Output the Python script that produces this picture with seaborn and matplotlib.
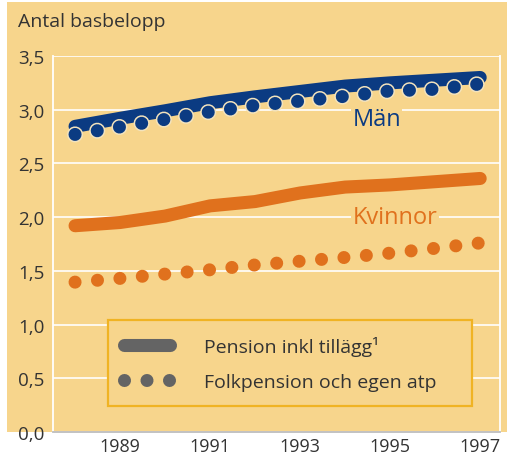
import pandas as pd
import matplotlib.pyplot as plt
import seaborn as sns
from matplotlib.lines import Line2D
from matplotlib.patches import Rectangle

# --- DATA ---
YEARS = list(range(1988, 1998))
MAN_TOTAL = [2.845, 2.92, 2.99, 3.065, 3.12, 3.17, 3.22, 3.25, 3.275, 3.30]
MAN_BASIC = [2.77, 2.84, 2.91, 2.98, 3.04, 3.08, 3.125, 3.175, 3.19, 3.24]
KVINNA_TOTAL = [1.92, 1.95, 2.01, 2.105, 2.145, 2.225, 2.28, 2.30, 2.33, 2.36]
KVINNA_BASIC = [1.395, 1.43, 1.47, 1.51, 1.555, 1.59, 1.625, 1.665, 1.71, 1.76]
Y_TICKS = [0.0, 0.5, 1.0, 1.5, 2.0, 2.5, 3.0, 3.5]
Y_LABELS = ['0,0', '0,5', '1,0', '1,5', '2,0', '2,5', '3,0', '3,5']
X_LABEL_YEARS = [1989, 1991, 1993, 1995, 1997]
LEGEND_LABELS = ['Pension inkl tillägg\u00b9', 'Folkpension och egen atp']

# --- STYLE ---
BG = '#f7d58c'
NAVY = '#0b3b82'
ORANGE = '#e0711d'
GREY = '#646464'
GOLD = '#f0b323'
TEXT = '#333333'
LW = 9.4                      # ~13 px thick strokes
DOTS = (0, (0.001, 16.2))     # round dots every ~22.5 px

sns.set_theme(style='white')
plt.rcParams['font.family'] = ['Open Sans', 'DejaVu Sans']
plt.rcParams['lines.scale_dashes'] = False


def main():
    fig = plt.figure(figsize=(5.07, 4.60), dpi=100, facecolor='white')
    fig.patches.append(Rectangle((7 / 507, 27 / 460), 1, 430 / 460,
                                 transform=fig.transFigure, facecolor=BG,
                                 edgecolor='none', zorder=-10))
    ax = fig.add_axes([53 / 507, 27 / 460, 447 / 507, 376 / 460])
    ax.set_facecolor(BG)

    df = pd.DataFrame({'year': YEARS, 'man_total': MAN_TOTAL, 'man_basic': MAN_BASIC,
                       'kvinna_total': KVINNA_TOTAL, 'kvinna_basic': KVINNA_BASIC})

    common = dict(data=df, x='year', ax=ax, legend=False)
    sns.lineplot(y='kvinna_total', color=ORANGE, linewidth=LW,
                 solid_capstyle='round', solid_joinstyle='round', zorder=3, **common)
    sns.lineplot(y='kvinna_basic', color=ORANGE, linewidth=LW, linestyle=DOTS,
                 dash_capstyle='round', zorder=3, **common)
    sns.lineplot(y='man_total', color=NAVY, linewidth=LW,
                 solid_capstyle='round', solid_joinstyle='round', zorder=3, **common)
    # light rim round the men's dots
    sns.lineplot(y='man_basic', color='#f3e3bd', linewidth=LW + 2.2, linestyle=DOTS,
                 dash_capstyle='round', zorder=4, **common)
    sns.lineplot(y='man_basic', color=NAVY, linewidth=LW, linestyle=DOTS,
                 dash_capstyle='round', zorder=5, **common)

    ax.set_xlim(1987.51, 1997.44)
    ax.set_ylim(0, 3.5)
    ax.set_xticks(YEARS)
    ax.set_xticklabels([str(y) if y in X_LABEL_YEARS else '' for y in YEARS])
    ax.set_yticks(Y_TICKS)
    ax.set_yticklabels(Y_LABELS)
    ax.set_xlabel('')
    ax.set_ylabel('')
    ax.grid(axis='y', color='white', linewidth=1.2, zorder=1)
    ax.grid(axis='x', visible=False)
    ax.set_axisbelow(True)
    ax.tick_params(axis='x', direction='in', length=5, width=1.3, color='white',
                   pad=3.5, labelsize=13, labelcolor=TEXT)
    ax.tick_params(axis='y', length=0, pad=6, labelsize=13.5, labelcolor=TEXT)
    for side in ['left', 'right']:
        ax.spines[side].set_color('white')
        ax.spines[side].set_linewidth(1.3)
    ax.spines['top'].set_visible(False)
    ax.spines['bottom'].set_color('#bdbdbd')
    ax.spines['bottom'].set_linewidth(1.3)

    ax.text(1994.16, 2.914, 'Män', color=NAVY, fontsize=17, va='center', ha='left',
            zorder=6, bbox=dict(facecolor=BG, edgecolor='none', pad=1))
    ax.text(1994.16, 2.00, 'Kvinnor', color=ORANGE, fontsize=17, va='center', ha='left',
            zorder=6, bbox=dict(facecolor=BG, edgecolor='none', pad=1))

    fig.text(18 / 507, 1 - 22 / 460, 'Antal basbelopp', fontsize=14, color=TEXT,
             ha='left', va='center')

    handles = [
        Line2D([], [], color=GREY, linewidth=LW, solid_capstyle='round'),
        Line2D([], [], color=GREY, linewidth=LW, linestyle=DOTS, dash_capstyle='round'),
    ]
    leg = ax.legend(handles, LEGEND_LABELS, loc='lower left', mode='expand',
                    bbox_to_anchor=(0.123, 0.069, 0.814, 0.2), borderaxespad=0,
                    fontsize=14, handlelength=2.37, handletextpad=1.75,
                    borderpad=0.8, labelspacing=0.85, fancybox=False, framealpha=1,
                    facecolor=BG, edgecolor=GOLD)
    leg.get_frame().set_linewidth(1.6)
    for t in leg.get_texts():
        t.set_color(TEXT)
    leg.set_zorder(7)

    fig.savefig('out.png', dpi=100, facecolor='white')


if __name__ == '__main__':
    main()
